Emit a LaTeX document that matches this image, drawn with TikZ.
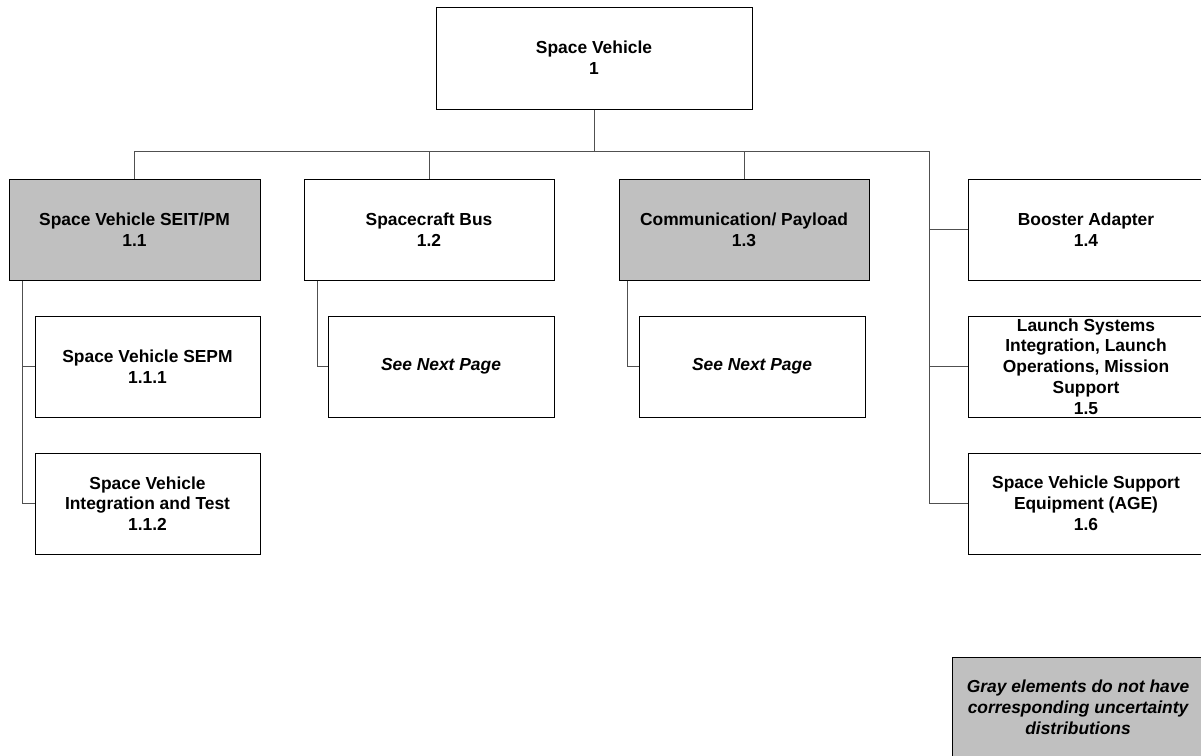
\documentclass[tikz,border=0pt]{standalone}
\usepackage{fontspec}
\setmainfont{Liberation Sans}
\definecolor{boxgray}{HTML}{C0C0C0}
\definecolor{linegray}{HTML}{505050}
\tikzset{
  wbs/.style={draw=black, line width=1pt, fill=white, align=center,
    minimum height=101pt, inner sep=2pt,
    font=\fontsize{17.4}{20.8}\selectfont\bfseries},
  shaded/.style={fill=boxgray},
  conn/.style={draw=linegray, line width=1pt},
  noteit/.style={font=\fontsize{17.4}{20.8}\selectfont\bfseries\itshape}
}
\begin{document}
\begin{tikzpicture}[x=1pt,y=-1pt]
  \useasboundingbox (0,0) rectangle (1201,755);
  \clip (0,0) rectangle (1201,755);

  % root
  \node[wbs, minimum width=316pt, minimum height=102pt] (root) at (594,58) {Space Vehicle\\1};

  % second level
  \node[wbs, shaded, minimum width=251pt] (n11) at (134.5,229.5) {Space Vehicle SEIT/PM\\1.1};
  \node[wbs, minimum width=250pt] (n12) at (429,229.5) {Spacecraft Bus\\1.2};
  \node[wbs, shaded, minimum width=250pt] (n13) at (744,229.5) {Communication/ Payload\\1.3};
  \node[wbs, minimum width=236pt] (n14) at (1086,229.5) {Booster Adapter\\1.4};
  \node[wbs, minimum width=236pt] (n15) at (1086,366.5) {Launch Systems\\Integration, Launch\\Operations, Mission\\Support\\1.5};
  \node[wbs, minimum width=236pt] (n16) at (1086,503.5) {Space Vehicle Support\\Equipment (AGE)\\1.6};

  % third level
  \node[wbs, minimum width=225pt] (n111) at (147.5,366.5) {Space Vehicle SEPM\\1.1.1};
  \node[wbs, minimum width=225pt] (n112) at (147.5,503.5) {Space Vehicle\\Integration and Test\\1.1.2};
  \node[wbs, noteit, minimum width=226pt] (n12c) at (441,366.5) {See Next Page};
  \node[wbs, noteit, minimum width=226pt] (n13c) at (752,366.5) {See Next Page};

  % legend
  \node[wbs, shaded, noteit, minimum width=251pt] (legend) at (1078,707.5)
    {Gray elements do not have\\corresponding uncertainty\\distributions};

  % bus under the root
  \coordinate (busL) at (134.5,151);
  \coordinate (busR) at (929,151);
  \draw[conn] (root.south) -- (root.south |- busL);
  \draw[conn] (n11.north) -- (busL) -- (busR) -- (busR |- n16.west) -- (n16.west);
  \draw[conn] (n12.north) -- (n12.north |- busL);
  \draw[conn] (n13.north) -- (n13.north |- busL);
  \draw[conn] (busR |- n14.west) -- (n14.west);
  \draw[conn] (busR |- n15.west) -- (n15.west);

  % children of 1.1, 1.2, 1.3
  \coordinate (t11) at ([xshift=14pt]n11.south west);
  \draw[conn] (t11) |- (n112.west);
  \draw[conn] (t11 |- n111.west) -- (n111.west);
  \draw[conn] ([xshift=14pt]n12.south west) |- (n12c.west);
  \draw[conn] ([xshift=9pt]n13.south west) |- (n13c.west);
\end{tikzpicture}
\end{document}
